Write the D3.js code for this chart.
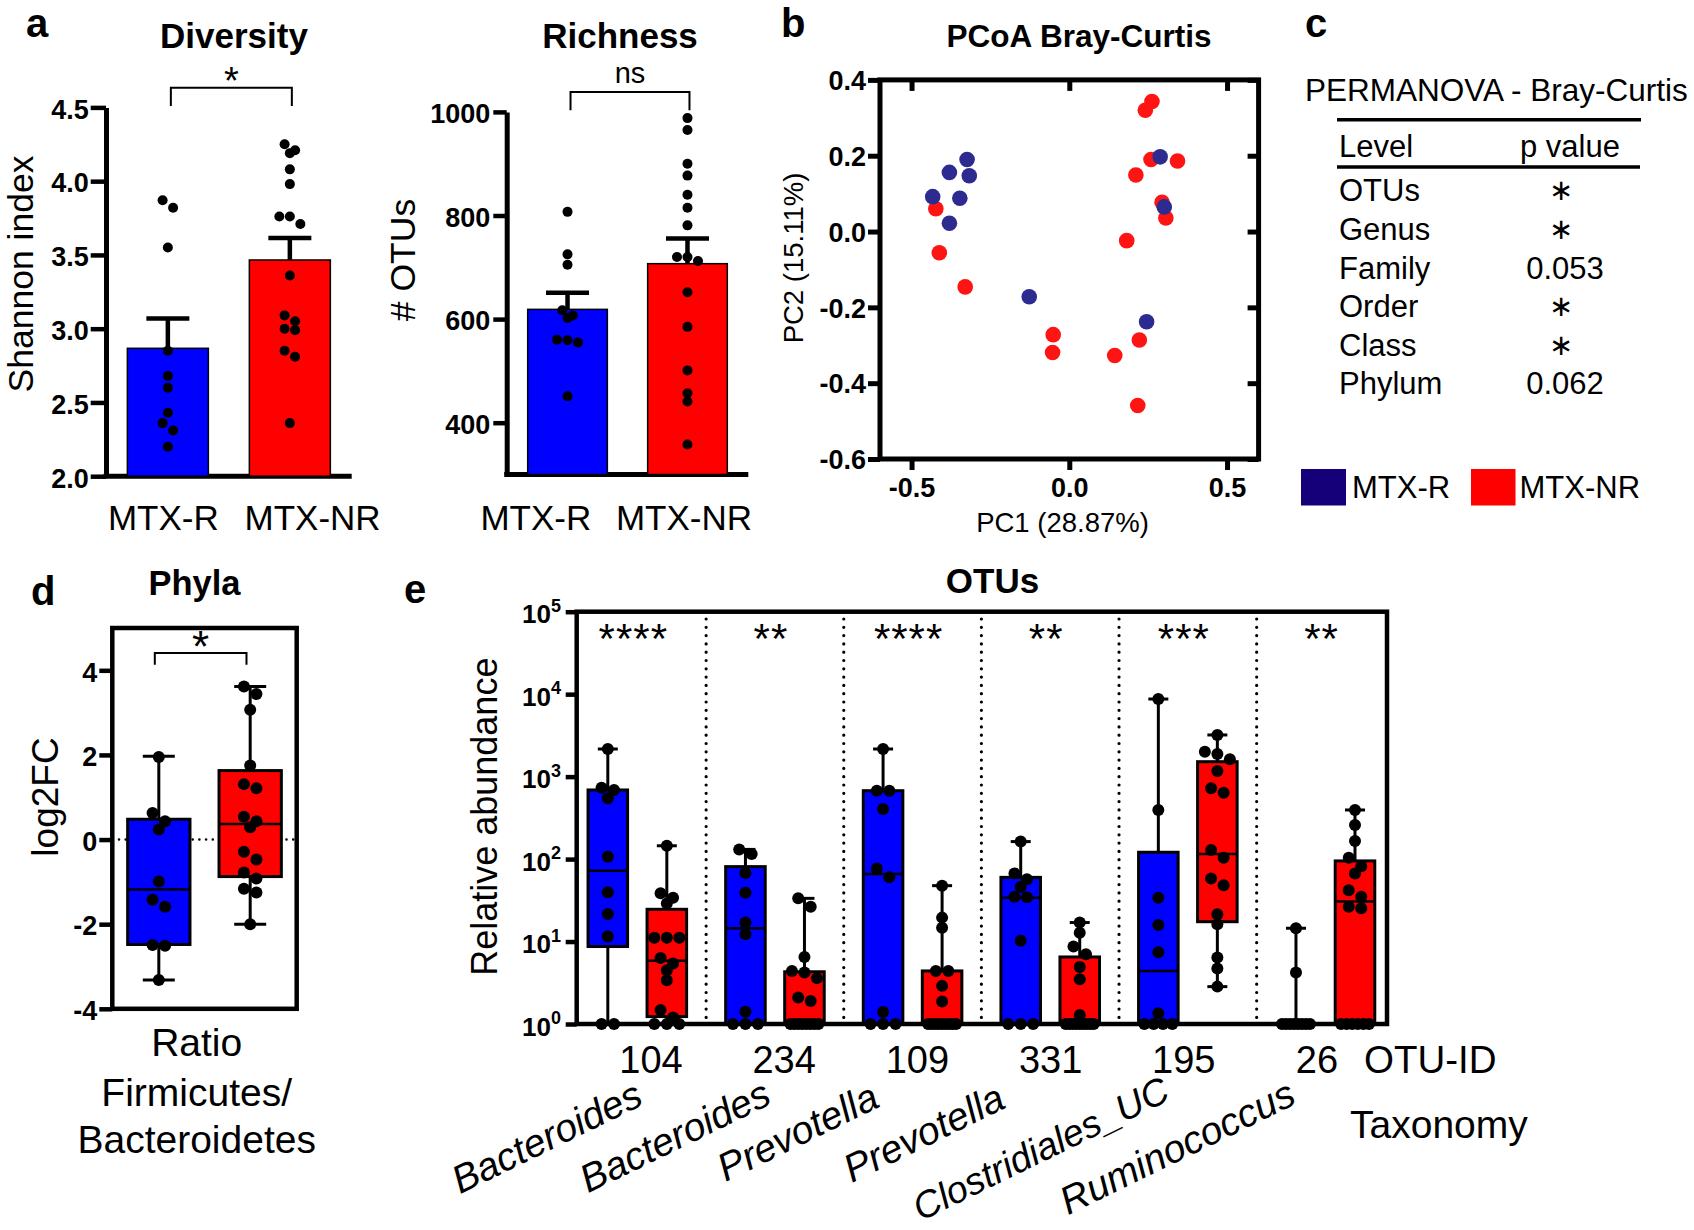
<!DOCTYPE html>
<html><head><meta charset="utf-8">
<script src="https://cdn.jsdelivr.net/npm/d3@7"></script>
<style>html,body{margin:0;padding:0;background:#fff;} svg{display:block;}</style>
</head><body><div id="chart"></div>
<script>
// ================= DATA =================
const groups = ['MTX-R', 'MTX-NR'];
// panel a - Diversity (Shannon index)
const shannonR  = [3.87, 3.82, 3.55, 2.85, 2.68, 2.60, 2.43, 2.36, 2.31, 2.20];
const shannonNR = [4.25, 4.19, 4.21, 4.08, 3.98, 3.76, 3.71, 3.76, 3.36, 3.09, 3.05, 2.99, 3.00, 2.85, 2.81, 2.36];
const shannonTicks = [2.0, 2.5, 3.0, 3.5, 4.0, 4.5];
// panel a - Richness (# OTUs)
const richR  = [807, 725, 705, 617, 602, 607, 559, 555, 560, 451];
const richNR = [988, 965, 900, 877, 840, 815, 781, 720, 720, 712, 652, 585, 501, 457, 441, 358];
const richTicks = [400, 600, 800, 1000];
// panel b - PCoA Bray-Curtis  [PC1, PC2]
const pcoaR = [[-0.324,0.190],[-0.380,0.156],[-0.317,0.147],[-0.433,0.092],[-0.347,0.088],[-0.380,0.022],
               [-0.127,-0.172],[0.288,0.197],[0.301,0.065],[0.245,-0.238]];
const pcoaNR = [[-0.423,0.060],[-0.412,-0.056],[-0.330,-0.146],[-0.051,-0.272],[-0.053,-0.319],[0.144,-0.327],
                [0.222,-0.286],[0.217,-0.459],[0.182,-0.024],[0.211,0.149],[0.259,0.190],[0.343,0.186],
                [0.294,0.077],[0.306,0.036],[0.241,0.320],[0.262,0.343]];
const pcXTicks = [-0.5, 0.0, 0.5];
const pcYTicks = [-0.6, -0.4, -0.2, 0.0, 0.2, 0.4];
// panel c - PERMANOVA table
const permLevels = ['OTUs', 'Genus', 'Family', 'Order', 'Class', 'Phylum'];
const permP = ['*', '*', '0.053', '*', '*', '0.062'];
// panel d - log2FC Firmicutes/Bacteroidetes
const fbR  = [1.95, 0.63, 0.43, 0.24, -0.99, -1.42, -1.59, -2.49, -2.51, -3.32];
const fbNR = [3.62, 3.44, 3.07, 1.75, 1.31, 1.21, 0.54, 0.43, 0.29, -0.29, -0.47, -0.78, -0.92, -1.16, -1.25, -2.0];
const fbStatsR  = [-3.32, -2.48, -1.18, 0.48, 1.97];   // min, q1, median, q3, max
const fbStatsNR = [-2.0, -0.875, 0.366, 1.63, 3.62];
const fbTicks = [-4, -2, 0, 2, 4];
// panel e - OTU relative abundance
const otuIds = ['104', '234', '109', '331', '195', '26'];
const otuTaxa = ['Bacteroides', 'Bacteroides', 'Prevotella', 'Prevotella', 'Clostridiales_UC', 'Ruminococcus'];
const otuStars = ['****', '**', '****', '**', '***', '**'];
const otuR = [
  [2160, 690, 735, 546, 107, 39.5, 21.6, 11.5, 1, 1],
  [131, 115, 68, 39, 17, 12.3, 1.41, 1, 1, 1],
  [2163, 675, 675, 405, 77, 60, 1.4, 1, 1, 1],
  [163, 67, 57, 46, 34.4, 35, 10.2, 1, 1, 1],
  [8730, 394, 34, 15.9, 7.4, 1.35, 1, 1, 1, 1],
  [14.5, 4.2, 1, 1, 1, 1, 1, 1, 1, 1]
];
const otuNR = [
  [145, 34, 38.5, 29, 11.1, 11.1, 11.1, 6.3, 5.4, 4.5, 3.4, 1.48, 1.2, 1, 1, 1],
  [33.4, 26.5, 6.5, 4.4, 4.2, 3.6, 2.1, 1.9, 1, 1, 1, 1, 1, 1, 1, 1],
  [47.6, 19.5, 14.7, 4.4, 4.4, 2.9, 1.87, 1, 1, 1, 1, 1, 1, 1, 1, 1],
  [17, 12.8, 8.7, 7.0, 4.9, 3.5, 1.29, 1, 1, 1, 1, 1, 1, 1, 1, 1],
  [3200, 2005, 1880, 1623, 1170, 721, 638, 129, 104, 58, 48, 21.4, 16.2, 6.4, 4.7, 2.84],
  [394, 259, 166, 104, 82, 67, 42, 35, 26.5, 25.3, 1, 1, 1, 1, 1, 1]
];
const otuStatsR = [[1, 8.7, 72, 689, 2163], [1, 1, 14.5, 81, 131], [1, 1, 66, 675, 2163],
                   [1, 1, 34, 60, 163], [1, 1, 4.4, 121, 8730], [1, 1, 1, 1, 14.5]];
const otuStatsNR = [[1, 1.23, 5.86, 24.6, 145], [1, 1, 1, 4.3, 33.4], [1, 1, 1, 4.4, 47.6],
                    [1, 1, 1, 6.5, 17], [2.84, 17.4, 115, 1517, 3200], [1, 1, 30.5, 95, 394]];
const otuTicks = [1, 10, 100, 1000, 10000, 100000];

// ================= STYLE / LAYOUT =================
const FONT = '"Liberation Sans", Arial, Helvetica, sans-serif';
const BLUE = '#0000ff', RED = '#ff0000';
const PC_BLUE = '#2d2b8f', PC_RED = '#ff1414', LEG_BLUE = '#15007a';
const grpColor = {'MTX-R': BLUE, 'MTX-NR': RED};

const svg = d3.select('#chart').append('svg')
  .attr('width', 1694).attr('height', 1230).attr('font-family', FONT);
svg.append('rect').attr('width', 1694).attr('height', 1230).attr('fill', '#fff');

function txt(x, y, s, o = {}) {
  const t = svg.append('text').attr('x', x).attr('y', y).text(s)
    .attr('font-size', o.size || 30).attr('font-weight', o.bold ? 'bold' : 'normal')
    .attr('text-anchor', o.anchor || 'start').attr('fill', '#000');
  if (o.italic) t.attr('font-style', 'italic');
  if (o.ls) t.attr('letter-spacing', o.ls);
  if (o.rot != null) t.attr('transform', `rotate(${o.rot},${x},${y})`);
  return t;
}
function line(x1, y1, x2, y2, w, extra) {
  const l = svg.append('line').attr('x1', x1).attr('y1', y1).attr('x2', x2).attr('y2', y2)
    .attr('stroke', '#000').attr('stroke-width', w);
  if (extra) extra(l);
  return l;
}
function styleAxis(g, o = {}) {
  g.attr('font-family', FONT).attr('font-size', o.size || 27).attr('font-weight', 'bold');
  g.select('.domain').attr('stroke', '#000').attr('stroke-width', o.dw || 5);
  if (o.noDomain) g.select('.domain').remove();
  g.selectAll('.tick line').attr('stroke', '#000').attr('stroke-width', o.tw || 4.5);
  g.selectAll('.tick text').attr('fill', '#000');
  if (o.dy) g.selectAll('.tick text').attr('dy', o.dy);
}
// Prism-like scatter spreading: points close in y form a row centred on the column
function swarm(vals, yf, r, maxHalf) {
  const idx = vals.map((v, i) => i).sort((a, b) => yf(vals[a]) - yf(vals[b]));
  const off = vals.map(() => 0);
  const rows = []; let cur = null;
  idx.forEach(i => {
    const py = yf(vals[i]);
    if (cur && py - cur.y0 < r * 1.5) cur.items.push(i);
    else { cur = {y0: py, items: [i]}; rows.push(cur); }
  });
  rows.forEach(row => {
    const k = row.items.length; if (k < 2) return;
    const sp = Math.min(2 * r + 0.5, 2 * maxHalf / (k - 1));
    row.items.forEach((i, j) => { off[i] = (j - (k - 1) / 2) * sp; });
  });
  return off;
}
const fmt1 = d => d.toFixed(1);
const fmtInt = d => String(d);

// ---- panel letters ----
[['a', 26, 36.5], ['b', 781, 36.5], ['c', 1305, 36.5], ['d', 31, 605], ['e', 404, 603]]
  .forEach(([s, x, y]) => txt(x, y, s, {size: 40, bold: true}));

// ================= PANEL a : bar charts =================
function barPanel(c) {
  const y = d3.scaleLinear().domain(c.yDom).range(c.yRange);
  const x = d3.scaleBand().domain(groups).range(c.xRange).paddingInner(0.336).paddingOuter(0.175);
  const ga = svg.append('g').attr('transform', `translate(${c.xRange[0]},0)`)
    .call(d3.axisLeft(y).tickValues(c.ticks).tickSize(c.tickSize).tickSizeOuter(0).tickPadding(c.pad).tickFormat(c.fmt));
  styleAxis(ga, {dy: '0.4em'});
  line(c.xRange[0] - 2.5, c.yRange[0], c.xRange[1], c.yRange[0], 5);
  [c.R, c.NR].forEach((arr, i) => {
    const g = groups[i];
    const m = d3.mean(arr), se = d3.deviation(arr) / Math.sqrt(arr.length);
    const cx = x(g) + x.bandwidth() / 2;
    svg.append('rect').attr('x', x(g)).attr('y', y(m)).attr('width', x.bandwidth())
      .attr('height', c.yRange[0] - y(m)).attr('fill', grpColor[g]).attr('stroke', '#000').attr('stroke-width', 1.5);
    line(cx, y(m), cx, y(m + se), 4.5);
    line(cx - 21.5, y(m + se), cx + 21.5, y(m + se), 4.5);
    const off = swarm(arr, y, 5, 12);
    arr.forEach((v, j) => svg.append('circle').attr('cx', cx + off[j]).attr('cy', y(v)).attr('r', 5).attr('fill', '#000'));
  });
  // significance bracket
  const x1 = x(groups[0]) + x.bandwidth() / 2 + 3, x2 = x(groups[1]) + x.bandwidth() / 2 + 2;
  svg.append('path').attr('d', `M${x1},${c.brB}V${c.brT}H${x2}V${c.brB}`)
    .attr('fill', 'none').attr('stroke', '#000').attr('stroke-width', 2);
  txt((x1 + x2) / 2, c.sigY, c.sig, {size: c.sigSize, anchor: 'middle'});
  // titles / labels
  txt(c.titleX, 48, c.title, {size: 35, bold: true, anchor: 'middle'});
  groups.forEach((g, i) => txt(x(g) + x.bandwidth() / 2 + c.labNudge[i], 530, g, {size: 35, anchor: 'middle'}));
  txt(c.yTitleX, c.yTitleY, c.yTitle, {size: 35.5, anchor: 'middle', rot: -90});
}
barPanel({yDom: [2, 4.5], yRange: [476.2, 107.4], xRange: [106, 351.7], ticks: shannonTicks, tickSize: 15.3,
  pad: 2, fmt: fmt1, R: shannonR, NR: shannonNR, brT: 87.8, brB: 106, sig: '*', sigY: 94, sigSize: 38,
  title: 'Diversity', titleX: 234, labNudge: [-4.5, 22.7], yTitle: 'Shannon index', yTitleX: 32.5, yTitleY: 274});
barPanel({yDom: [300, 1000], yRange: [474.5, 111.9], xRange: [506.7, 748.3], ticks: richTicks, tickSize: 13.4,
  pad: 3, fmt: fmtInt, R: richR, NR: richNR, brT: 91.9, brB: 110.2, sig: 'ns', sigY: 82.6, sigSize: 29,
  title: 'Richness', titleX: 620, labNudge: [-31.7, -3.5], yTitle: '# OTUs', yTitleX: 415, yTitleY: 260});

// ================= PANEL b : PCoA =================
(function () {
  const x = d3.scaleLinear().domain([-0.6, 0.6]).range([880, 1258.6]);
  const y = d3.scaleLinear().domain([-0.6, 0.4]).range([459, 79.9]);
  const gl = svg.append('g').attr('transform', 'translate(880,0)')
    .call(d3.axisLeft(y).tickValues(pcYTicks).tickSize(12).tickPadding(2).tickFormat(fmt1));
  styleAxis(gl, {noDomain: true, tw: 5, dy: '0.36em'});
  const gb = svg.append('g').attr('transform', 'translate(0,459)')
    .call(d3.axisBottom(x).tickValues(pcXTicks).tickSize(11).tickPadding(8).tickFormat(fmt1));
  styleAxis(gb, {noDomain: true, tw: 5});
  const gt = svg.append('g').attr('transform', 'translate(0,79.9)')
    .call(d3.axisTop(x).tickValues(pcXTicks).tickSize(-11).tickFormat(''));
  styleAxis(gt, {noDomain: true, tw: 5});
  const gr = svg.append('g').attr('transform', 'translate(1258.6,0)')
    .call(d3.axisRight(y).tickValues(pcYTicks).tickSize(-11).tickFormat(''));
  styleAxis(gr, {noDomain: true, tw: 5});
  svg.append('rect').attr('x', 880).attr('y', 79.9).attr('width', 378.6).attr('height', 379.1)
    .attr('fill', 'none').attr('stroke', '#000').attr('stroke-width', 5);
  svg.append('g').selectAll('circle').data(pcoaNR).join('circle')
    .attr('cx', d => x(d[0])).attr('cy', d => y(d[1])).attr('r', 7.8).attr('fill', PC_RED);
  svg.append('g').selectAll('circle').data(pcoaR).join('circle')
    .attr('cx', d => x(d[0])).attr('cy', d => y(d[1])).attr('r', 7.8).attr('fill', PC_BLUE);
  txt(1079, 46.5, 'PCoA Bray-Curtis', {size: 31.5, bold: true, anchor: 'middle'});
  txt(1062.5, 532, 'PC1 (28.87%)', {size: 27.5, anchor: 'middle'});
  txt(803, 258, 'PC2 (15.11%)', {size: 27.5, anchor: 'middle', rot: -90});
})();

// ================= PANEL c : table + legend =================
(function () {
  txt(1305, 100.5, 'PERMANOVA - Bray-Curtis', {size: 31.5});
  line(1337, 119.8, 1641, 119.8, 3.5);
  line(1337, 167, 1640, 167, 3.5);
  txt(1339, 156.7, 'Level', {size: 31});
  txt(1570, 156.7, 'p value', {size: 31, anchor: 'middle'});
  const ry = d3.scalePoint().domain(permLevels).range([201.4, 394.3]);
  permLevels.forEach((lv, i) => {
    txt(1339, ry(lv), lv, {size: 31});
    if (permP[i] === '*') txt(1561, ry(lv) - 1, '\u2217', {size: 29, anchor: 'middle'});
    else txt(1565, ry(lv), permP[i], {size: 31, anchor: 'middle'});
  });
  svg.append('rect').attr('x', 1301).attr('y', 469).attr('width', 45).attr('height', 36.5).attr('fill', LEG_BLUE);
  txt(1352, 497.6, 'MTX-R', {size: 31});
  svg.append('rect').attr('x', 1471).attr('y', 469).attr('width', 44.5).attr('height', 36.5).attr('fill', RED);
  txt(1519.5, 497.6, 'MTX-NR', {size: 31});
})();

// ================= PANEL d : Phyla box plot =================
(function () {
  const y = d3.scaleLinear().domain([-4, 5]).range([1008.8, 628]);
  const x = d3.scaleBand().domain(groups).range([112.3, 296.7]).paddingInner(0.318).paddingOuter(0.168);
  line(112.3, y(0), 296.7, y(0), 2.6, l => l.attr('stroke-dasharray', '0,6.7').attr('stroke-linecap', 'round'));
  svg.append('rect').attr('x', 112.3).attr('y', 628).attr('width', 184.4).attr('height', 380.8)
    .attr('fill', 'none').attr('stroke', '#000').attr('stroke-width', 4.5);
  const ga = svg.append('g').attr('transform', 'translate(112.3,0)')
    .call(d3.axisLeft(y).tickValues(fbTicks).tickSize(13).tickPadding(2).tickFormat(fmtInt));
  styleAxis(ga, {noDomain: true, dy: '0.4em'});
  [[fbR, fbStatsR], [fbNR, fbStatsNR]].forEach(([arr, st], i) => {
    const g = groups[i], cx = x(g) + x.bandwidth() / 2;
    line(cx, y(st[3]), cx, y(st[4]), 3); line(cx, y(st[1]), cx, y(st[0]), 3);
    line(cx - 16, y(st[4]), cx + 16, y(st[4]), 3); line(cx - 16, y(st[0]), cx + 16, y(st[0]), 3);
    svg.append('rect').attr('x', x(g)).attr('y', y(st[3])).attr('width', x.bandwidth())
      .attr('height', y(st[1]) - y(st[3])).attr('fill', grpColor[g]).attr('stroke', '#000').attr('stroke-width', 3);
    line(x(g), y(st[2]), x(g) + x.bandwidth(), y(st[2]), 2.5);
    const off = swarm(arr, y, 6, 14);
    arr.forEach((v, j) => svg.append('circle').attr('cx', cx + off[j]).attr('cy', y(v)).attr('r', 6).attr('fill', '#000'));
  });
  const x1 = x(groups[0]) + x.bandwidth() / 2 - 4, x2 = x(groups[1]) + x.bandwidth() / 2 - 3.7;
  svg.append('path').attr('d', `M${x1},664.8V652.9H${x2}V664.8`).attr('fill', 'none').attr('stroke', '#000').attr('stroke-width', 2);
  txt((x1 + x2) / 2, 662, '*', {size: 44, anchor: 'middle'});
  txt(194.5, 594.8, 'Phyla', {size: 34.5, bold: true, anchor: 'middle'});
  txt(58, 797, 'log2FC', {size: 37, anchor: 'middle', rot: -90});
  txt(196.7, 1056, 'Ratio', {size: 39, anchor: 'middle'});
  txt(196.7, 1105.7, 'Firmicutes/', {size: 39, anchor: 'middle'});
  txt(196.7, 1153, 'Bacteroidetes', {size: 39, anchor: 'middle'});
})();

// ================= PANEL e : OTU box plots =================
(function () {
  const y = d3.scaleLog().domain([1, 1e5]).range([1024, 611.7]);
  const x = d3.scaleBand().domain(otuIds).range([568.5, 1394.3]).padding(0);
  const sub = d3.scaleBand().domain(groups).range([0, x.bandwidth()]).paddingInner(0.33).paddingOuter(0.331);
  // dotted separators
  otuIds.slice(1).forEach(id => line(x(id), 619, x(id), 1024, 3.2,
    l => l.attr('stroke-dasharray', '0,8.3').attr('stroke-linecap', 'round')));
  svg.append('rect').attr('x', 576.7).attr('y', 611.7).attr('width', 810.3).attr('height', 412.3)
    .attr('fill', 'none').attr('stroke', '#000').attr('stroke-width', 4.5);
  const ga = svg.append('g').attr('transform', 'translate(576.7,0)')
    .call(d3.axisLeft(y).tickValues(otuTicks).tickSize(11).tickFormat(''));
  styleAxis(ga, {noDomain: true});
  otuTicks.forEach(v => {
    const t = txt(561, y(v) + 11.6, '10', {size: 26, bold: true, anchor: 'end'});
    t.append('tspan').attr('dy', -11.6).attr('font-size', 18).text(String(Math.round(Math.log10(v))));
  });
  otuIds.forEach((id, k) => {
    [[otuR[k], otuStatsR[k]], [otuNR[k], otuStatsNR[k]]].forEach(([arr, st], i) => {
      const g = groups[i], bx = x(id) + sub(g), bw = sub.bandwidth(), cx = bx + bw / 2;
      line(cx, y(st[3]), cx, y(st[4]), 3);
      line(cx - 10, y(st[4]), cx + 10, y(st[4]), 3);
      if (st[1] > st[0]) { line(cx, y(st[1]), cx, y(st[0]), 3); line(cx - 10, y(st[0]), cx + 10, y(st[0]), 3); }
      svg.append('rect').attr('x', bx).attr('y', y(st[3])).attr('width', bw)
        .attr('height', Math.max(0, y(st[1]) - y(st[3]))).attr('fill', grpColor[g])
        .attr('stroke', '#000').attr('stroke-width', 3);
      line(bx, y(st[2]), bx + bw, y(st[2]), 2.5);
    });
    [otuR[k], otuNR[k]].forEach((arr, i) => {
      const cx = x(id) + sub(groups[i]) + sub.bandwidth() / 2;
      const off = swarm(arr, y, 6, 14);
      arr.forEach((v, j) => svg.append('circle').attr('cx', cx + off[j]).attr('cy', y(v)).attr('r', 6).attr('fill', '#000'));
    });
    txt(x(id) + x.bandwidth() / 2 - 4, 652.5, otuStars[k], {size: 42, anchor: 'middle', ls: 1});
  });
  // x labels
  const xl = d3.scalePoint().domain(otuIds).range([651, 1317]);
  const taxNudge = [[-6, 1104, 39], [-11, 1103, 39], [-36, 1106, 39], [-43, 1107, 39], [-12, 1099, 37.5], [-19, 1103, 39]];
  otuIds.forEach((id, k) => {
    txt(xl(id), 1072.7, id, {size: 38, anchor: 'middle'});
    txt(xl(id) + taxNudge[k][0], taxNudge[k][1], otuTaxa[k], {size: taxNudge[k][2], italic: true, anchor: 'end', rot: -26});
  });
  txt(1364, 1072.7, 'OTU-ID', {size: 38.5});
  txt(1350, 1138, 'Taxonomy', {size: 39});
  txt(992.5, 593.3, 'OTUs', {size: 35, bold: true, anchor: 'middle'});
  txt(497, 816.7, 'Relative abundance', {size: 36, anchor: 'middle', rot: -90});
})();
</script></body></html>
